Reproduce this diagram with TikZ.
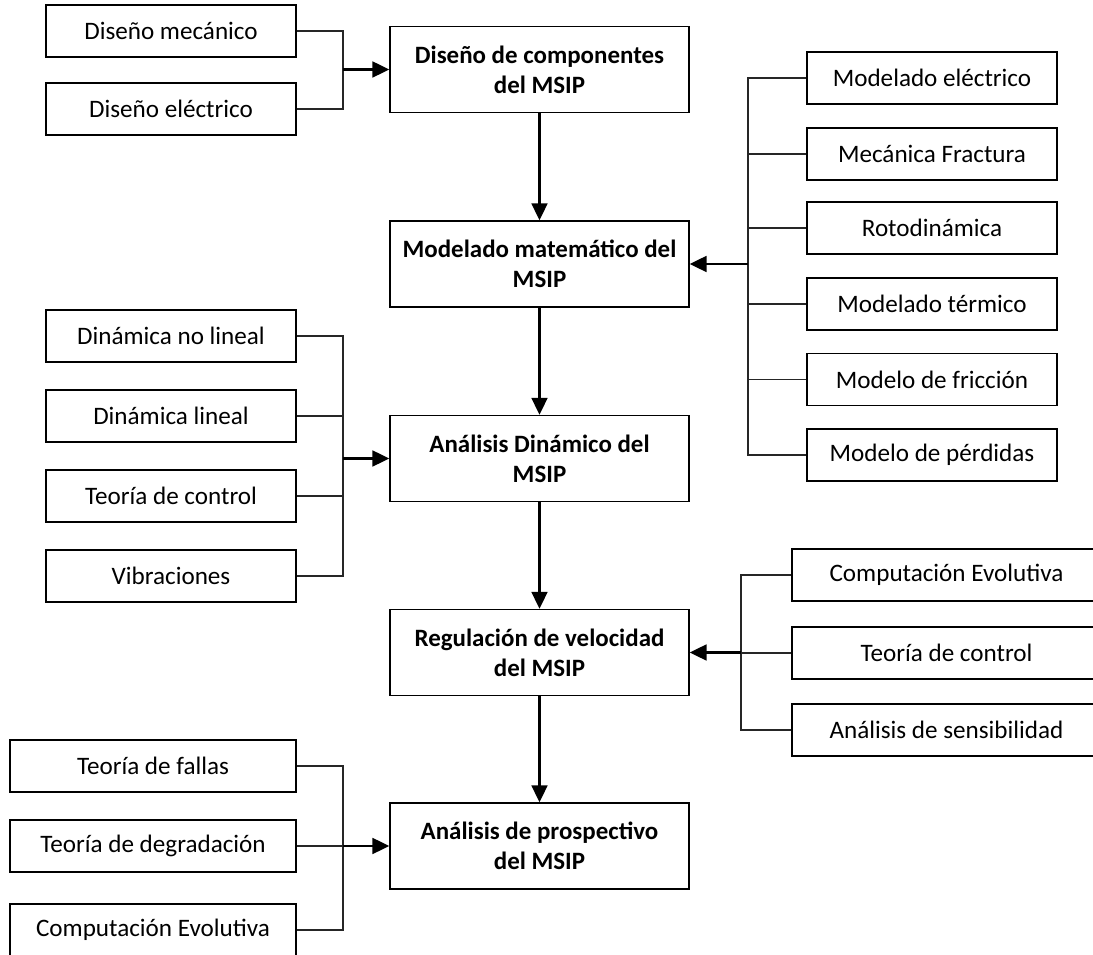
\documentclass[tikz,border=0pt]{standalone}
\usepackage{fontspec}
\setmainfont{Carlito}
\usetikzlibrary{arrows.meta}

\begin{document}
\begin{tikzpicture}[x=0.02cm, y=-0.02cm,
  subbox/.style={draw, line width=0.7pt, minimum width=5cm, minimum height=1.04cm, inner sep=0pt,
    font=\fontsize{14.3}{17}\selectfont},
  mainbox/.style={draw, line width=0.8pt, minimum width=5.98cm, minimum height=1.72cm, inner sep=0pt,
    align=center, font=\fontsize{14.2}{17}\selectfont\bfseries},
  link/.style={line width=0.65pt, black!85},
  flow/.style={line width=1.3pt, -{Triangle[length=9.6pt, width=9pt]}}]

 \useasboundingbox (0,0) rectangle (1093,955);
 \clip (0,0) rectangle (1093,955);

 %% main chain
 \node[mainbox] (comp) at (539.5,69.5)  {Diseño de componentes\\del MSIP};
 \node[mainbox] (mate) at (539.5,264)   {Modelado matemático del\\MSIP};
 \node[mainbox] (dina) at (539.5,458.5) {Análisis Dinámico del\\MSIP};
 \node[mainbox] (velo) at (539.5,652.5) {Regulación de velocidad\\del MSIP};
 \node[mainbox] (pros) at (539.5,846)   {Análisis de prospectivo\\del MSIP};

 \draw [flow] (comp.south) -- (mate.north);
 \draw [flow] (mate.south) -- (dina.north);
 \draw [flow] (dina.south) -- (velo.north);
 \draw [flow] (velo.south) -- (pros.north);

 %% design inputs
 \node[subbox] (dmec)  at (171,31)  {Diseño mecánico};
 \node[subbox] (delec) at (171,109) {Diseño eléctrico};
 \coordinate (jdis) at (343,69.5);
 \draw [link] (dmec.east) -| (jdis);
 \draw [link] (delec.east) -| (jdis);
 \draw [flow] (jdis) -- (comp.west);

 %% modelling inputs
 \node[subbox] (melec) at (932,78)    {Modelado eléctrico};
 \node[subbox] (mfrac) at (932,154)   {Mecánica Fractura};
 \node[subbox] (mroto) at (932,228)   {Rotodinámica};
 \node[subbox] (mterm) at (932,304)   {Modelado térmico};
 \node[subbox] (mfric) at (932,379.5) {Modelo de fricción};
 \node[subbox] (mperd) at (932,455)   {Modelo de pérdidas};
 \coordinate (jmod) at (748,264);
 \draw [link] (melec.west) -| (jmod);
 \draw [link] (mfrac.west) -| (jmod);
 \draw [link] (mroto.west) -| (jmod);
 \draw [link] (mterm.west) -| (jmod);
 \draw [link] (mfric.west) -| (jmod);
 \draw [link] (mperd.west) -| (jmod);
 \draw [flow] (jmod) -- (mate.east);

 %% dynamics inputs
 \node[subbox] (dnol) at (171,336) {Dinámica no lineal};
 \node[subbox] (dlin) at (171,416) {Dinámica lineal};
 \node[subbox] (dctl) at (171,496) {Teoría de control};
 \node[subbox] (dvib) at (171,576) {Vibraciones};
 \coordinate (jdin) at (343,458.5);
 \draw [link] (dnol.east) -| (jdin);
 \draw [link] (dlin.east) -| (jdin);
 \draw [link] (dctl.east) -| (jdin);
 \draw [link] (dvib.east) -| (jdin);
 \draw [flow] (jdin) -- (dina.west);

 %% speed control inputs
 \node[subbox, minimum width=6.18cm] (vevo) at (946.5,575) {Computación Evolutiva};
 \node[subbox, minimum width=6.18cm] (vctl) at (946.5,653) {Teoría de control};
 \node[subbox, minimum width=6.18cm] (vsen) at (946.5,730) {Análisis de sensibilidad};
 \coordinate (jvel) at (741,652.5);
 \draw [link] (vevo.west) -| (jvel);
 \draw [link] (vctl.west) -| (jvel);
 \draw [link] (vsen.west) -| (jvel);
 \draw [flow] (jvel) -- (velo.east);

 %% prospective inputs
 \node[subbox, minimum width=5.72cm] (pfal) at (153,766) {Teoría de fallas};
 \node[subbox, minimum width=5.72cm] (pdeg) at (153,846) {Teoría de degradación};
 \node[subbox, minimum width=5.72cm] (pevo) at (153,930) {Computación Evolutiva};
 \coordinate (jpro) at (343,846);
 \draw [link] (pfal.east) -| (jpro);
 \draw [link] (pdeg.east) -| (jpro);
 \draw [link] (pevo.east) -| (jpro);
 \draw [flow] (jpro) -- (pros.west);
\end{tikzpicture}
\end{document}
